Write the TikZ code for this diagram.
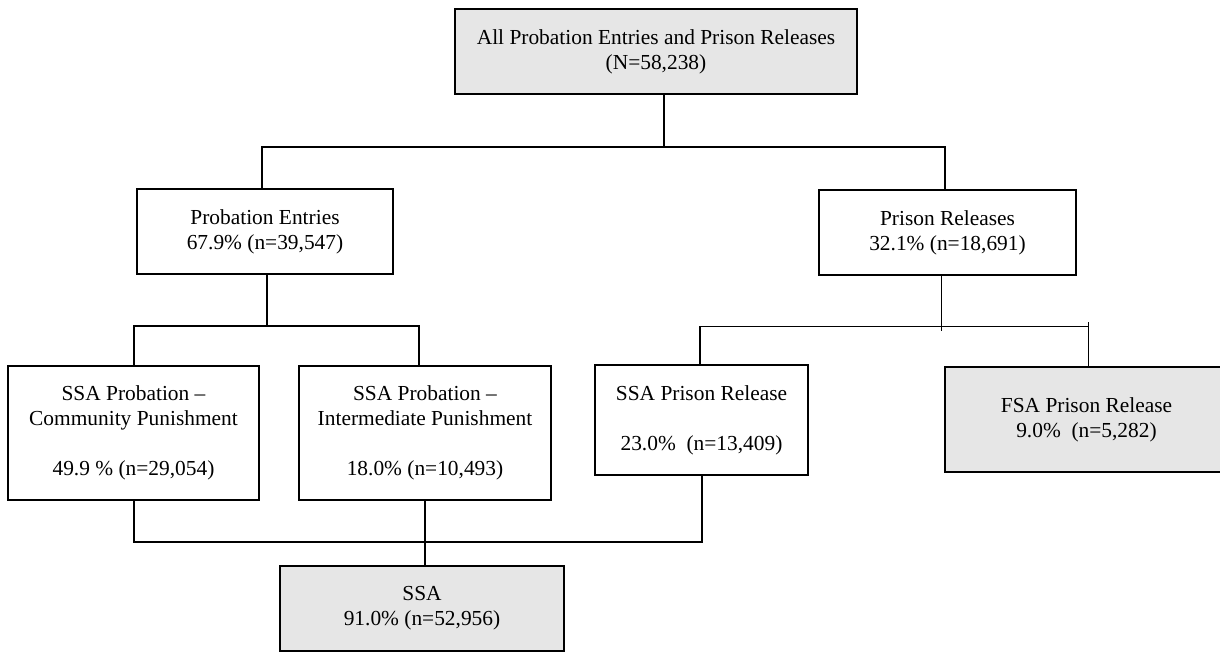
\documentclass[tikz,border=0pt]{standalone}
\usepackage{fontspec}
\setmainfont{Liberation Serif}
\definecolor{boxgray}{HTML}{E6E6E6}

\begin{document}
\begin{tikzpicture}[x=1pt,y=-1pt]
\tikzset{stage box/.style=
            {draw,line width=2.7pt,align=center,inner sep=0pt,
             font=\fontsize{21.4}{25}\selectfont},
         total box/.style=
            {stage box,fill=boxgray},
         link/.style={line width=2pt},
         thin link/.style={line width=0.9pt}}
\useasboundingbox (0,0) rectangle (1220,652);

% boxes
\node[total box,minimum width=402pt,minimum height=85pt] (all) at (656,51.5)
    {All Probation Entries and Prison Releases\\(N=58,238)};
\node[stage box,minimum width=256pt,minimum height=85pt] (prob) at (265,231.5)
    {Probation Entries\\67.9\% (n=39,547)};
\node[stage box,minimum width=257pt,minimum height=85pt] (pris) at (947.5,232.5)
    {Prison Releases\\32.1\% (n=18,691)};
\node[stage box,minimum width=251pt,minimum height=134pt] (comm) at (133.5,433)
    {SSA Probation --\\Community Punishment\\[25pt]49.9 \% (n=29,054)};
\node[stage box,minimum width=252pt,minimum height=134pt] (inter) at (425,433)
    {SSA Probation --\\Intermediate Punishment\\[25pt]18.0\% (n=10,493)};
\node[stage box,minimum width=213pt,minimum height=110pt] (ssapr) at (701.5,420)
    {SSA Prison Release\\[25pt]23.0\%~ (n=13,409)};
\node[total box,minimum width=283pt,minimum height=105pt] (fsa) at (1086.5,419.5)
    {FSA Prison Release\\9.0\%~ (n=5,282)};
\node[total box,minimum width=284pt,minimum height=85pt] (ssa) at (422,608.5)
    {SSA\\91.0\% (n=52,956)};

% connectors
\draw[link] ([xshift=8pt]all.south) -- ++(0,52) coordinate (topfork);
\draw[link] ([xshift=-3pt]prob.north) |- (topfork) -| ([xshift=-2.5pt]pris.north);
\draw[link] ([xshift=2pt]prob.south) -- ++(0,51) coordinate (probfork);
\draw[link] (comm.north) |- (probfork) -| ([xshift=-6pt]inter.north);
\draw[thin link] ([xshift=-6.5pt,yshift=2pt]pris.south) -- ++(0,57);
\path ([xshift=-6.5pt]pris.south) ++(0,50) coordinate (prisfork);
\draw[thin link] ([xshift=-1.5pt]ssapr.north |- prisfork) -- ([xshift=2.5pt]fsa.north |- prisfork);
\draw[thin link] ([xshift=1.5pt,yshift=4pt]fsa.north |- prisfork) -- ([xshift=1.5pt]fsa.north);
\draw[link] ([xshift=-1.5pt]ssapr.north |- prisfork) -- ([xshift=-1.5pt]ssapr.north);
\draw[link] (comm.south) -- ++(0,41) coordinate (ssafork) -| (ssapr.south);
\draw[link] (inter.south) -- (inter.south |- ssa.north);
\end{tikzpicture}
\end{document}
